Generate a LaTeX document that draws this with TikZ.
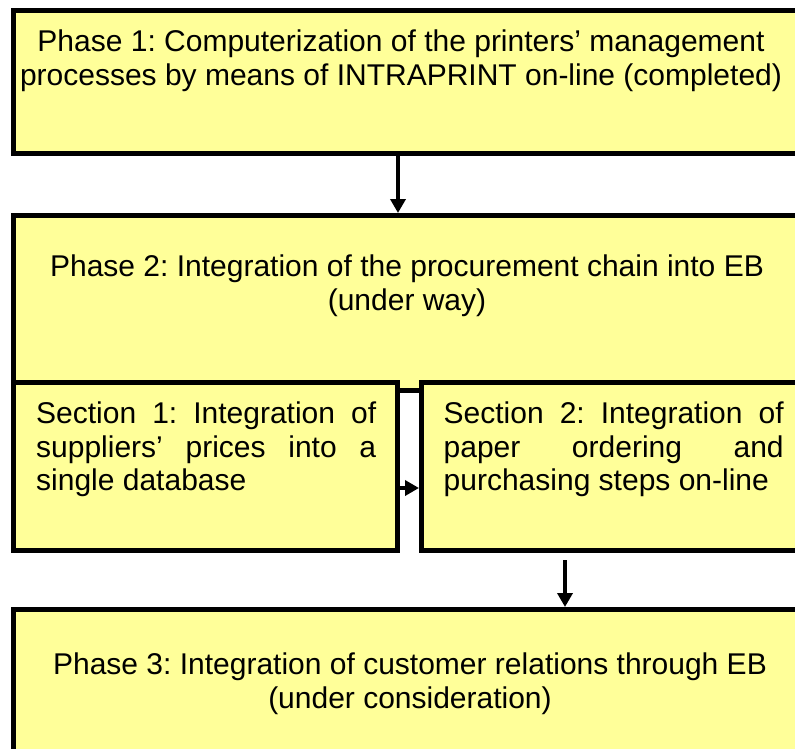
\documentclass[tikz,border=0pt]{standalone}
\usepackage{fontspec}
\setmainfont{Liberation Sans}
\usetikzlibrary{arrows.meta,positioning}

\definecolor{boxyellow}{HTML}{FFFF99}

\newcommand\boxfont{\fontsize{30}{33.5}\selectfont\frenchspacing}
\newcommand\nohyph{\hyphenpenalty=10000\relax\exhyphenpenalty=10000\relax}

\tikzset{
  phasebox/.style={rectangle, draw=black, line width=5pt, fill=boxyellow,
    anchor=north west, inner sep=0pt},
  phasetext/.style={anchor=north, inner sep=0pt, align=center, font=\boxfont},
  sectiontext/.style={anchor=north west, inner sep=0pt, text width=340pt,
    align=justify, font=\boxfont\nohyph},
  flow/.style={line width=4pt, -{Triangle[width=15pt,length=14pt]}}
}

\begin{document}
\begin{tikzpicture}[x=1pt,y=-1pt]

        \useasboundingbox (0,0) rectangle (795,749);
        \clip (0,0) rectangle (795,749);

        \begin{scope}[every node/.style={phasebox}]
          \node[minimum width=786.5pt, minimum height=143pt] (p1) at (11,8)   {};
          \node[minimum width=784pt,   minimum height=175pt] (p2) at (11,213) {};
          \node[minimum width=384pt,   minimum height=168pt] (s1) at (11,380) {};
          \node[minimum width=378.5pt, minimum height=168pt] (s2) at (419,380) {};
          \node[minimum width=786.5pt, minimum height=150pt] (p3) at (11,607) {};
        \end{scope}

        \node[phasetext] (p1text) at (401,30)
          {Phase 1: Computerization of the printers’ management\\
           processes by means of INTRAPRINT on-line (completed)};
        \node[phasetext] (p2text) at (407,255)
          {Phase 2: Integration of the procurement chain into EB\\
           (under way)};
        \node[phasetext] (p3text) at (410,653)
          {Phase 3: Integration of customer relations through EB\\
           (under consideration)};
        \node[sectiontext] (s1text) at (36,402)
          {Section 1: Integration of\linebreak suppliers’ prices into a\linebreak single database};
        \node[sectiontext] (s2text) at (443.5,402)
          {Section 2: Integration of\linebreak paper ordering and\linebreak purchasing steps on-line};

        \coordinate (a1) at (398,0);
        \coordinate (a2) at (565,0);
        \coordinate (a3) at (0,488);

        \draw[flow] (a1 |- p1.south) -- (a1 |- p2.north);
        \draw[flow] (a3 -| s1.east) -- (a3 -| s2.west);
        \draw[flow, shorten <=7pt] (a2 |- s2.south) -- (a2 |- p3.north);

      \end{tikzpicture}
\end{document}
